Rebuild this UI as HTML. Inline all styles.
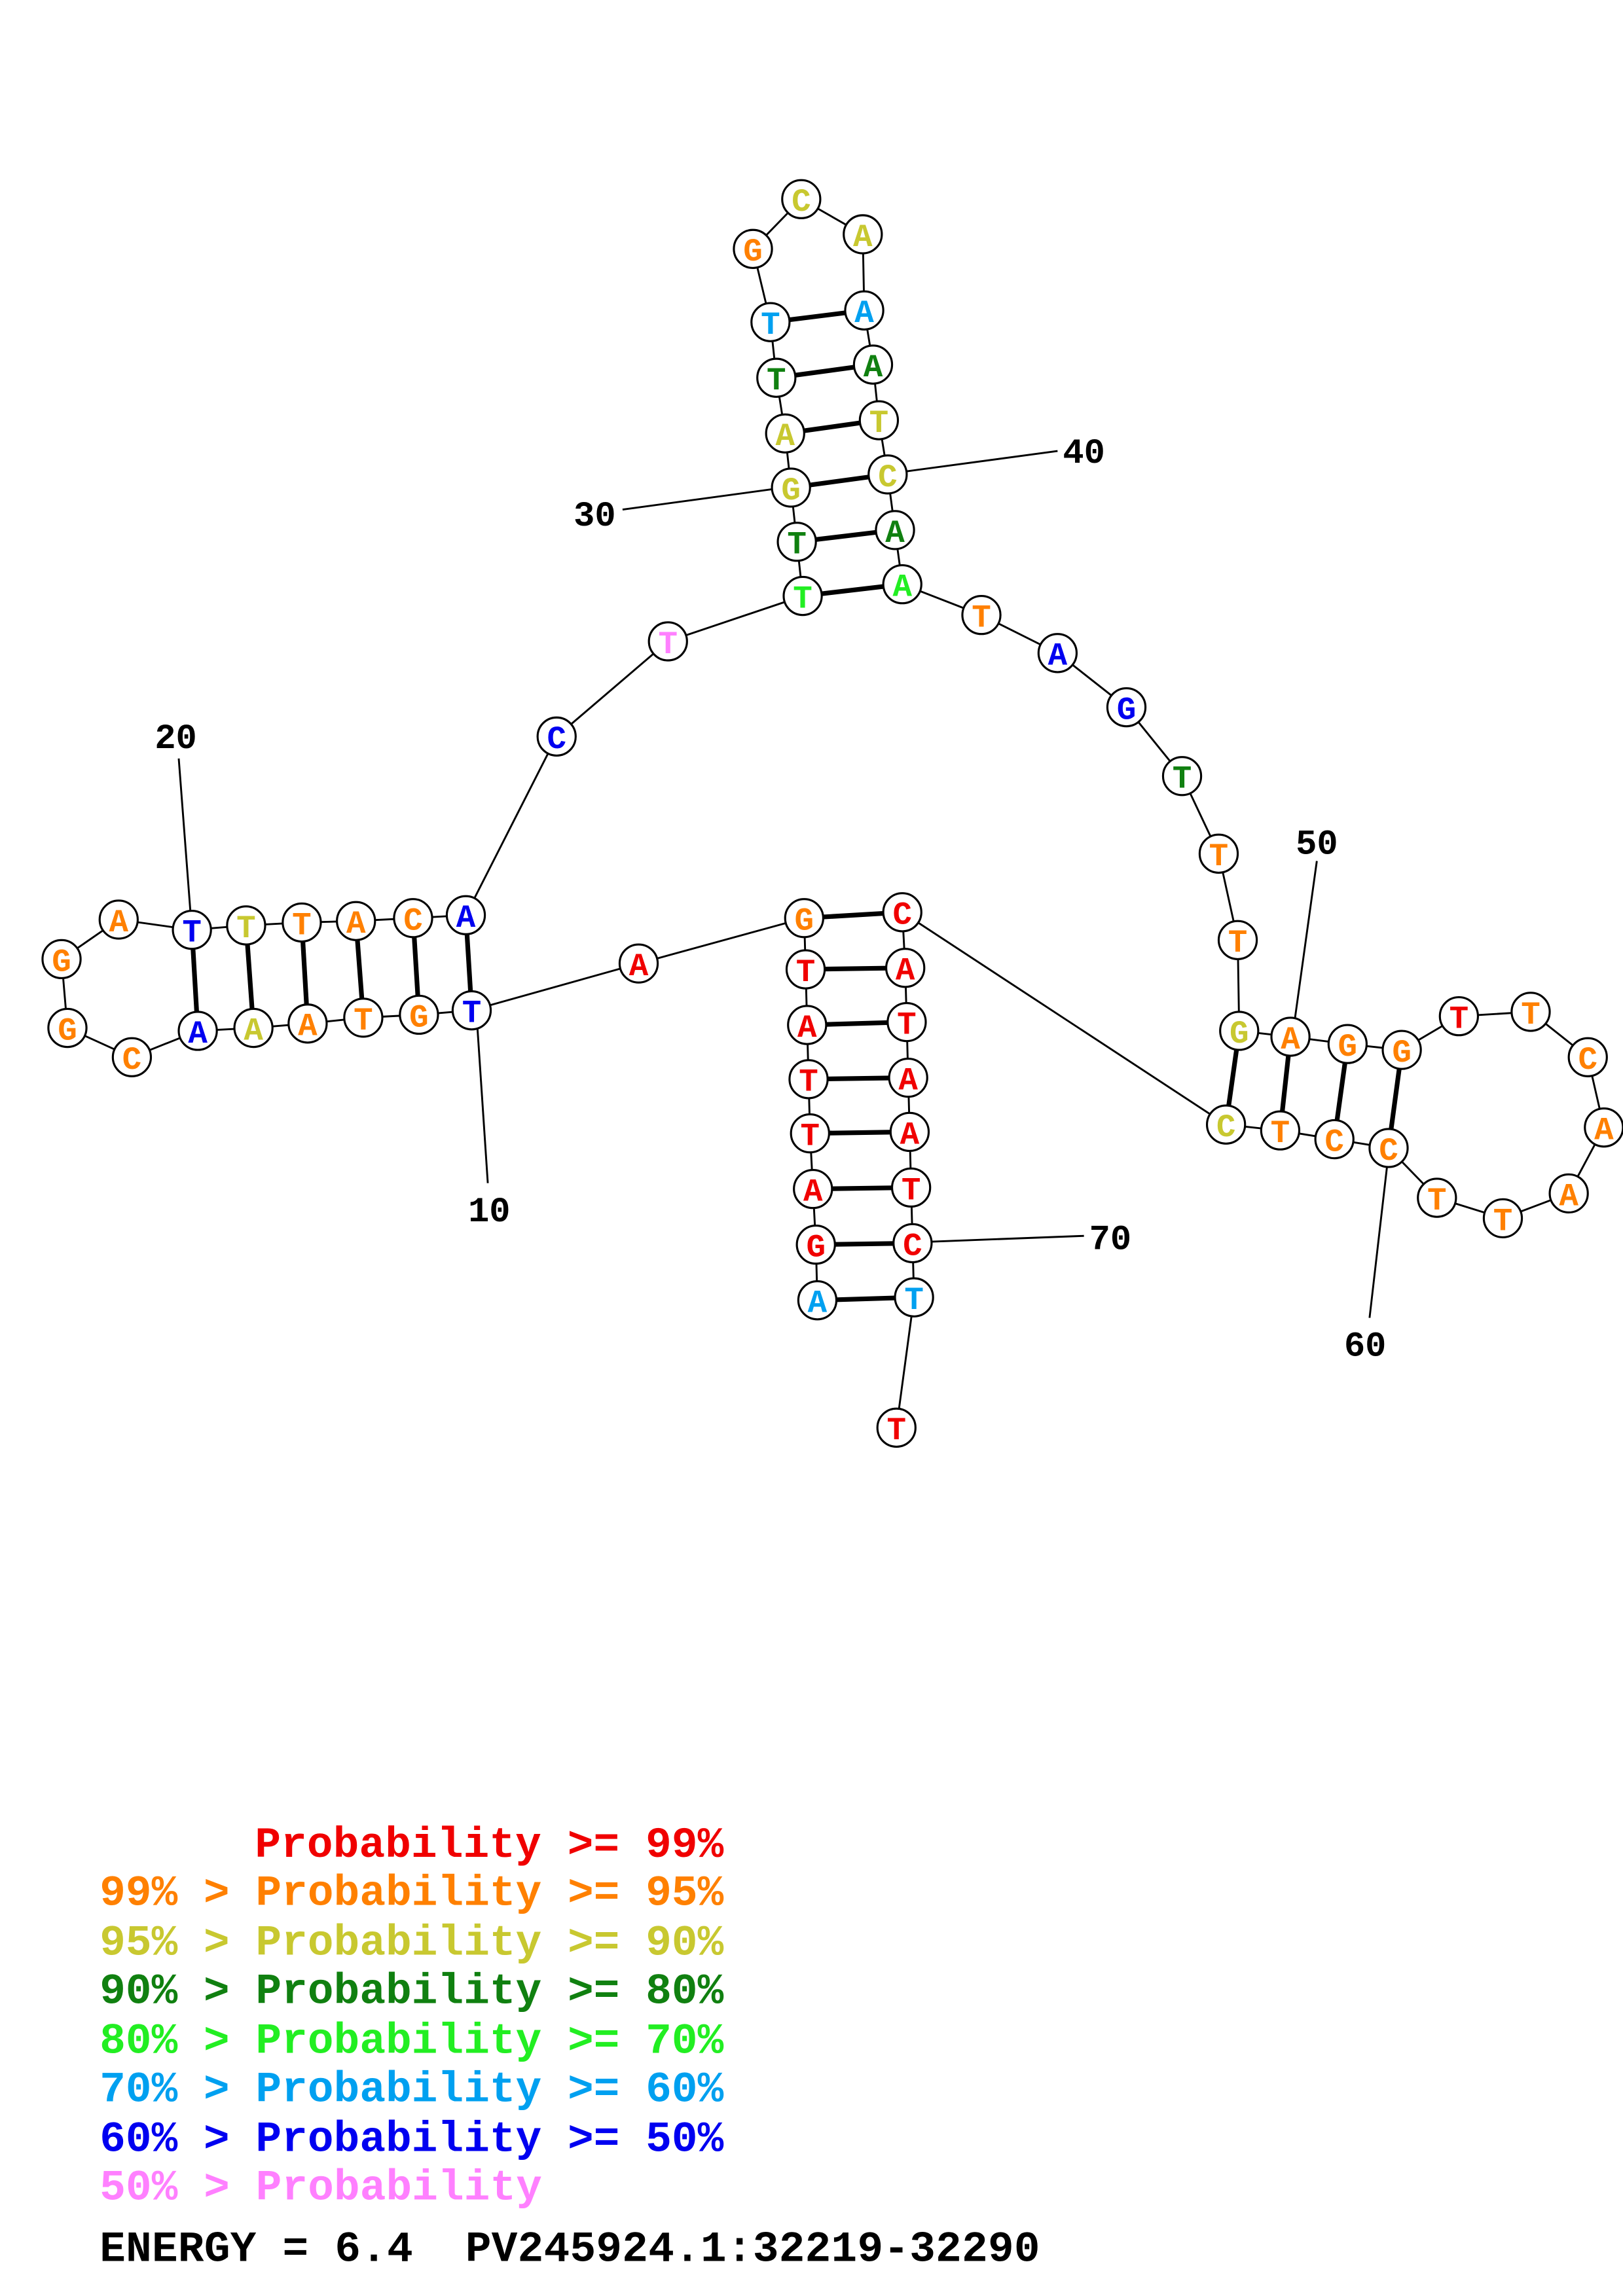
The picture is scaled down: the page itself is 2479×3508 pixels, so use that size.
<!DOCTYPE html>
<html><head><meta charset="utf-8"><style>html,body{margin:0;padding:0;background:#fff}svg{display:block}</style></head>
<body>
<svg xmlns="http://www.w3.org/2000/svg" width="2479" height="3508" viewBox="0 0 1108 1568">
<rect width="1108" height="1568" fill="#fff"/>
<g stroke="#000" stroke-width="1.3" fill="none">
<polyline points="558,888 557,850 555,812 553,774 552,737 551,700 550,662 549,627 436,658 322,690 286,693 248,695 210,699 173,702 135,704 90,722 46,702 42,655 81,628 131,635 168,632 206,630 243,629 282,627 318,625 380,503 456,438 548,407 544,370 540,333 536,296 530,258 526,220 514,170 547,136 589,160 590,212 596,249 600,287 606,324 611,362 616,399 670,420 722,446 769,483 807,530 832,583 845,642 846,704 881,708 920,713 957,717 996,694 1045,691 1084,722 1095,770 1071,815 1026,832 981,818 948,784 911,778 874,772 837,768 616,623 618,661 619,698 620,736 621,773 622,811 623,849 624,886 612,975"/>
<line x1="326" y1="703" x2="333" y2="808"/>
<line x1="130" y1="623" x2="122" y2="518"/>
<line x1="528" y1="334" x2="425" y2="348"/>
<line x1="618" y1="322" x2="722" y2="308"/>
<line x1="884" y1="696" x2="899" y2="588"/>
<line x1="947" y1="796" x2="935" y2="900"/>
<line x1="635" y1="848" x2="740" y2="844"/>
</g>
<g stroke="#000" stroke-width="3.2">
<line x1="558" y1="888" x2="624" y2="886"/><line x1="557" y1="850" x2="623" y2="849"/><line x1="555" y1="812" x2="622" y2="811"/><line x1="553" y1="774" x2="621" y2="773"/><line x1="552" y1="737" x2="620" y2="736"/><line x1="551" y1="700" x2="619" y2="698"/><line x1="550" y1="662" x2="618" y2="661"/><line x1="549" y1="627" x2="616" y2="623"/>
<line x1="322" y1="690" x2="318" y2="625"/><line x1="286" y1="693" x2="282" y2="627"/><line x1="248" y1="695" x2="243" y2="629"/><line x1="210" y1="699" x2="206" y2="630"/><line x1="173" y1="702" x2="168" y2="632"/><line x1="135" y1="704" x2="131" y2="635"/>
<line x1="548" y1="407" x2="616" y2="399"/><line x1="544" y1="370" x2="611" y2="362"/><line x1="540" y1="333" x2="606" y2="324"/><line x1="536" y1="296" x2="600" y2="287"/><line x1="530" y1="258" x2="596" y2="249"/><line x1="526" y1="220" x2="590" y2="212"/>
<line x1="846" y1="704" x2="837" y2="768"/><line x1="881" y1="708" x2="874" y2="772"/><line x1="920" y1="713" x2="911" y2="778"/><line x1="957" y1="717" x2="948" y2="784"/>
</g>
<g stroke="#000" stroke-width="1.4" fill="#fff">
<circle cx="558" cy="888" r="13"/><circle cx="557" cy="850" r="13"/><circle cx="555" cy="812" r="13"/><circle cx="553" cy="774" r="13"/><circle cx="552" cy="737" r="13"/><circle cx="551" cy="700" r="13"/><circle cx="550" cy="662" r="13"/><circle cx="549" cy="627" r="13"/><circle cx="436" cy="658" r="13"/><circle cx="322" cy="690" r="13"/><circle cx="286" cy="693" r="13"/><circle cx="248" cy="695" r="13"/><circle cx="210" cy="699" r="13"/><circle cx="173" cy="702" r="13"/><circle cx="135" cy="704" r="13"/><circle cx="90" cy="722" r="13"/><circle cx="46" cy="702" r="13"/><circle cx="42" cy="655" r="13"/><circle cx="81" cy="628" r="13"/><circle cx="131" cy="635" r="13"/><circle cx="168" cy="632" r="13"/><circle cx="206" cy="630" r="13"/><circle cx="243" cy="629" r="13"/><circle cx="282" cy="627" r="13"/><circle cx="318" cy="625" r="13"/><circle cx="380" cy="503" r="13"/><circle cx="456" cy="438" r="13"/><circle cx="548" cy="407" r="13"/><circle cx="544" cy="370" r="13"/><circle cx="540" cy="333" r="13"/><circle cx="536" cy="296" r="13"/><circle cx="530" cy="258" r="13"/><circle cx="526" cy="220" r="13"/><circle cx="514" cy="170" r="13"/><circle cx="547" cy="136" r="13"/><circle cx="589" cy="160" r="13"/><circle cx="590" cy="212" r="13"/><circle cx="596" cy="249" r="13"/><circle cx="600" cy="287" r="13"/><circle cx="606" cy="324" r="13"/><circle cx="611" cy="362" r="13"/><circle cx="616" cy="399" r="13"/><circle cx="670" cy="420" r="13"/><circle cx="722" cy="446" r="13"/><circle cx="769" cy="483" r="13"/><circle cx="807" cy="530" r="13"/><circle cx="832" cy="583" r="13"/><circle cx="845" cy="642" r="13"/><circle cx="846" cy="704" r="13"/><circle cx="881" cy="708" r="13"/><circle cx="920" cy="713" r="13"/><circle cx="957" cy="717" r="13"/><circle cx="996" cy="694" r="13"/><circle cx="1045" cy="691" r="13"/><circle cx="1084" cy="722" r="13"/><circle cx="1095" cy="770" r="13"/><circle cx="1071" cy="815" r="13"/><circle cx="1026" cy="832" r="13"/><circle cx="981" cy="818" r="13"/><circle cx="948" cy="784" r="13"/><circle cx="911" cy="778" r="13"/><circle cx="874" cy="772" r="13"/><circle cx="837" cy="768" r="13"/><circle cx="616" cy="623" r="13"/><circle cx="618" cy="661" r="13"/><circle cx="619" cy="698" r="13"/><circle cx="620" cy="736" r="13"/><circle cx="621" cy="773" r="13"/><circle cx="622" cy="811" r="13"/><circle cx="623" cy="849" r="13"/><circle cx="624" cy="886" r="13"/><circle cx="612" cy="975" r="13"/>
</g>
<g font-family="'Liberation Mono',monospace" font-weight="bold" font-size="22" text-anchor="middle">
<text x="558" y="896" fill="#00a0f0">A</text><text x="557" y="858" fill="#f00000">G</text><text x="555" y="820" fill="#f00000">A</text><text x="553" y="782" fill="#f00000">T</text><text x="552" y="745" fill="#f00000">T</text><text x="551" y="708" fill="#f00000">A</text><text x="550" y="670" fill="#f00000">T</text><text x="549" y="635" fill="#ff8000">G</text><text x="436" y="666" fill="#f00000">A</text><text x="322" y="698" fill="#0000f0">T</text><text x="286" y="701" fill="#ff8000">G</text><text x="248" y="703" fill="#ff8000">T</text><text x="210" y="707" fill="#ff8000">A</text><text x="173" y="710" fill="#c8c830">A</text><text x="135" y="712" fill="#0000f0">A</text><text x="90" y="730" fill="#ff8000">C</text><text x="46" y="710" fill="#ff8000">G</text><text x="42" y="663" fill="#ff8000">G</text><text x="81" y="636" fill="#ff8000">A</text><text x="131" y="643" fill="#0000f0">T</text><text x="168" y="640" fill="#c8c830">T</text><text x="206" y="638" fill="#ff8000">T</text><text x="243" y="637" fill="#ff8000">A</text><text x="282" y="635" fill="#ff8000">C</text><text x="318" y="633" fill="#0000f0">A</text><text x="380" y="511" fill="#0000f0">C</text><text x="456" y="446" fill="#ff80ff">T</text><text x="548" y="415" fill="#22ee22">T</text><text x="544" y="378" fill="#108010">T</text><text x="540" y="341" fill="#c8c830">G</text><text x="536" y="304" fill="#c8c830">A</text><text x="530" y="266" fill="#108010">T</text><text x="526" y="228" fill="#00a0f0">T</text><text x="514" y="178" fill="#ff8000">G</text><text x="547" y="144" fill="#c8c830">C</text><text x="589" y="168" fill="#c8c830">A</text><text x="590" y="220" fill="#00a0f0">A</text><text x="596" y="257" fill="#108010">A</text><text x="600" y="295" fill="#c8c830">T</text><text x="606" y="332" fill="#c8c830">C</text><text x="611" y="370" fill="#108010">A</text><text x="616" y="407" fill="#22ee22">A</text><text x="670" y="428" fill="#ff8000">T</text><text x="722" y="454" fill="#0000f0">A</text><text x="769" y="491" fill="#0000f0">G</text><text x="807" y="538" fill="#108010">T</text><text x="832" y="591" fill="#ff8000">T</text><text x="845" y="650" fill="#ff8000">T</text><text x="846" y="712" fill="#c8c830">G</text><text x="881" y="716" fill="#ff8000">A</text><text x="920" y="721" fill="#ff8000">G</text><text x="957" y="725" fill="#ff8000">G</text><text x="996" y="702" fill="#f00000">T</text><text x="1045" y="699" fill="#ff8000">T</text><text x="1084" y="730" fill="#ff8000">C</text><text x="1095" y="778" fill="#ff8000">A</text><text x="1071" y="823" fill="#ff8000">A</text><text x="1026" y="840" fill="#ff8000">T</text><text x="981" y="826" fill="#ff8000">T</text><text x="948" y="792" fill="#ff8000">C</text><text x="911" y="786" fill="#ff8000">C</text><text x="874" y="780" fill="#ff8000">T</text><text x="837" y="776" fill="#c8c830">C</text><text x="616" y="631" fill="#f00000">C</text><text x="618" y="669" fill="#f00000">A</text><text x="619" y="706" fill="#f00000">T</text><text x="620" y="744" fill="#f00000">A</text><text x="621" y="781" fill="#f00000">A</text><text x="622" y="819" fill="#f00000">T</text><text x="623" y="857" fill="#f00000">C</text><text x="624" y="894" fill="#00a0f0">T</text><text x="612" y="983" fill="#f00000">T</text>
</g>
<g font-family="'Liberation Mono',monospace" font-weight="bold" font-size="24" fill="#000" text-anchor="middle">
<text x="334" y="834">10</text><text x="120" y="511">20</text><text x="406" y="359">30</text><text x="740" y="316">40</text><text x="899" y="583">50</text><text x="932" y="926">60</text><text x="758" y="853">70</text>
</g>
<g font-family="'Liberation Mono',monospace" font-weight="bold" font-size="29.5">
<text x="174" y="1268" fill="#f00000" textLength="320">Probability &gt;= 99%</text>
<text x="68" y="1301" fill="#ff8000" textLength="426">99% &gt; Probability &gt;= 95%</text>
<text x="68" y="1335" fill="#c8c830" textLength="426">95% &gt; Probability &gt;= 90%</text>
<text x="68" y="1368" fill="#108010" textLength="426">90% &gt; Probability &gt;= 80%</text>
<text x="68" y="1402" fill="#22ee22" textLength="426">80% &gt; Probability &gt;= 70%</text>
<text x="68" y="1435" fill="#00a0f0" textLength="426">70% &gt; Probability &gt;= 60%</text>
<text x="68" y="1469" fill="#0000f0" textLength="426">60% &gt; Probability &gt;= 50%</text>
<text x="68" y="1502" fill="#ff80ff" textLength="302">50% &gt; Probability</text>
<text x="68" y="1544" fill="#000" textLength="642">ENERGY = 6.4 &#160;PV245924.1:32219-32290</text>
</g>
</svg>
</body></html>
